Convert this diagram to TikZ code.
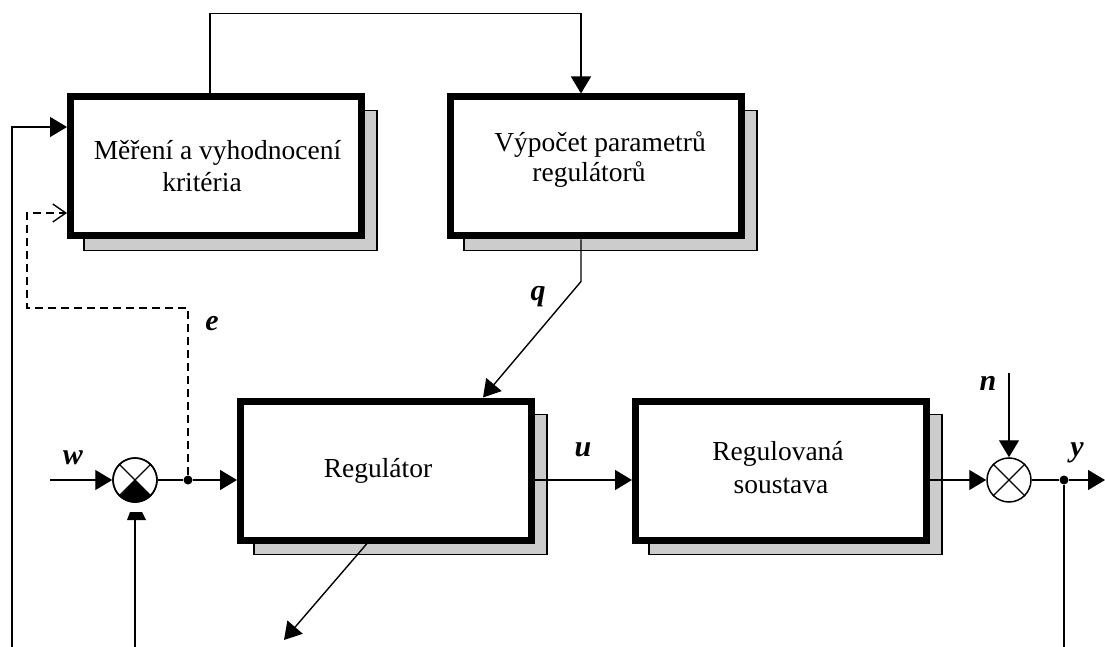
\documentclass[tikz,border=0pt]{standalone}
\usepackage{fontspec}
\setmainfont{Liberation Serif}
\usetikzlibrary{arrows.meta,calc,backgrounds}

\begin{document}
\begin{tikzpicture}[x=0.5pt,y=-0.5pt,
  blk/.style={draw,line width=3.5pt,fill=white,minimum width=145.5pt,
              minimum height=69.5pt,inner sep=0pt},
  shadowbox/.style={draw,line width=0.65pt,fill=black!20},
  txt/.style={inner sep=0pt,anchor=base,font=\fontsize{13.75pt}{15.5pt}\selectfont},
  sig/.style={inner sep=0pt,anchor=base,font=\fontsize{15pt}{17pt}\selectfont\bfseries\itshape},
  ln/.style={line width=0.7pt},
  dsh/.style={line width=0.55pt,dash pattern=on 4pt off 2.5pt},
  tip/.style={-{Triangle[length=8.5pt,width=10pt]}},
  barb/.style={-{Straight Barb[length=6.5pt,width=9pt,line width=0.7pt]}},
  sumnode/.style={circle,draw,line width=0.75pt,fill=white,minimum size=22pt,inner sep=0pt},
  dotnode/.style={circle,fill,minimum size=4.5pt,inner sep=0pt}
]
\useasboundingbox (0,0) rectangle (1105,647);

% blocks
\node[blk] (m) at (216,166.5) {};
\node[blk] (v) at (596,166.5) {};
\node[blk] (r) at (386,470.5) {};
\node[blk] (p) at (781,470.5) {};

% block captions
\node[txt] (m1) at (217.5,160) {Měření a vyhodnocení};
\node[txt] (m2) at (202,192) {kritéria};
\node[txt] (v1) at (600,152) {Výpočet parametrů};
\node[txt] (v2) at (589,182) {regulátorů};
\node[txt] (r1) at (378,477) {Regulátor};
\node[txt] (p1) at (778,460) {Regulovaná};
\node[txt] (p2) at (781,493) {soustava};

% drop shadows behind the blocks
\begin{pgfonlayer}{background}
  \foreach \b in {m,v,r,p}
    \draw[shadowbox] ($(\b.north west)+(17,17)$) rectangle ($(\b.south east)+(12,11)$);
\end{pgfonlayer}

% summing junctions
\node[sumnode] (s1) at (135,480) {};
\fill (s1.center) -- (s1.-45) arc[start angle=-45,end angle=-135,radius=11pt] -- cycle;
\draw[line width=0.75pt] (s1) circle[radius=11pt];
\draw[line width=0.6pt] (s1.45) -- (s1.225) (s1.135) -- (s1.-45);

\node[sumnode] (s2) at (1009,480) {};
\draw[line width=0.6pt] (s2.45) -- (s2.225) (s2.135) -- (s2.-45);

% branch points and free ends
\node[dotnode] (ed) at (188,480) {};
\node[dotnode] (yd) at (1064,480) {};
\coordinate (win) at (50,480);
\coordinate (nin) at (1009,373);
\coordinate (yout) at (1105,480);
\coordinate (regout) at (284,640);
\coordinate (fbl) at (12,647);
\coordinate (fbs) at (135,647);
\coordinate (fby) at (1064,647);
\coordinate (ecorner) at (27,308);

% main loop
\draw[ln,tip] (win) -- (s1);
\draw[ln] (s1) -- (ed);
\draw[ln,tip] (ed) -- (r.west |- ed);
\draw[ln,tip] (r.east |- ed) -- (p.west |- ed);
\draw[ln,tip] (p.east |- ed) -- (s2);
\draw[ln,tip] (nin) -- (s2);
\draw[ln] (s2) -- (yd);
\draw[ln,tip] (yd) -- (yout);
\draw[ln] (yd) -- (fby);

% feedback into the lower summing junction
\draw[ln] (fbs) -- (135,520);
\fill (127,520) -- (146,520) -- (142,512) -- (130,512) -- cycle;

% adaptation loop
\draw[ln,tip] (fbl) |- ($(m.west)+(0,-39.5)$);
\draw[dsh,barb] (ed) |- (ecorner) |- ($(m.west)+(0,46.5)$);
\draw[ln,tip] ($(m.north)+(-6,0)$) -- ++(0,-80) -| ($(v.north)+(-15,0)$);
\draw[ln,tip] ($(v.south)+(-15,0)$) -- ++(0,42) -- ($(r.north)+(97,0)$);
\draw[ln,tip] ($(r.south)+(-19,0)$) -- (regout);

% signal names
\node[sig] (lw) at (73,465) {w};
\node[sig] (le) at (212,330) {e};
\node[sig] (lq) at (538,300) {q};
\node[sig] (lu) at (583,457) {u};
\node[sig] (ln) at (988,390) {n};
\node[sig] (ly) at (1077,457) {y};
\end{tikzpicture}
\end{document}
